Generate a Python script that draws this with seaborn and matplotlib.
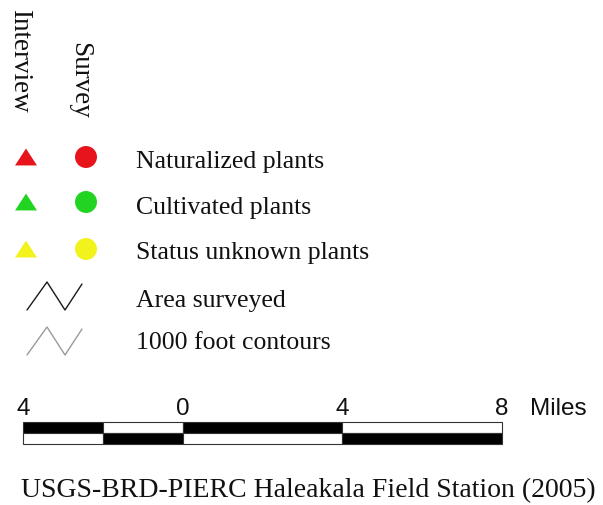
import matplotlib.pyplot as plt
import seaborn as sns
import pandas as pd

# legend entries
labels = ["Naturalized plants", "Cultivated plants", "Status unknown plants",
          "Area surveyed", "1000 foot contours"]
point_colors = ["#e8141c", "#22d422", "#f2f21c"]
line_colors = ["#1a1a1a", "#9a9a9a"]
zigzag_dx = [0, 20, 38, 55]
zigzag_dy = [0, -28, 0, -26]

# scale bar (miles)
scale_edges = [-4, -2, 0, 4, 8]
scale_ticks = [-4, 0, 4, 8]
scale_tick_labels = ["4", "0", "4", "8"]
credit = "USGS-BRD-PIERC Haleakala Field Station (2005)"

sns.set_theme(style="white")
plt.rcParams['font.family'] = ['Liberation Serif', 'DejaVu Serif']
plt.rcParams['text.color'] = '#111111'

fig = plt.figure(figsize=(6.03, 5.06), dpi=100)
ax = fig.add_axes([0, 0, 1, 1])
ax.set_xlim(0, 603)
ax.set_ylim(506, 0)
ax.axis('off')

# column headers
ax.text(20, 9, "Interview", rotation=270, ha="center", va="top", fontsize=19.5)
ax.text(80, 42, "Survey", rotation=270, ha="center", va="top", fontsize=19.5)

row_y = [158, 203, 250, 297, 342]
text_base = [168, 214, 259, 307, 349]

tri_marker = [(-1, -0.77), (1, -0.77), (0, 0.77)]
tri = pd.DataFrame({"x": [26] * 3, "y": row_y[:3], "status": labels[:3]})
circ = pd.DataFrame({"x": [86] * 3, "y": row_y[:3], "status": labels[:3]})
sns.scatterplot(data=tri, x="x", y="y", hue="status", palette=point_colors,
                marker=tri_marker, s=250, linewidth=0, legend=False, ax=ax)
sns.scatterplot(data=circ, x="x", y="y", hue="status", palette=point_colors,
                marker="o", s=250, linewidth=0, legend=False, ax=ax)

for i, c in enumerate(line_colors):
    y0 = row_y[3 + i] + 14
    sns.lineplot(x=[27 + d for d in zigzag_dx], y=[y0 + d for d in zigzag_dy],
                 sort=False, estimator=None, color=c, lw=1.0, ax=ax)

for lab, yb in zip(labels, text_base):
    ax.text(136, yb, lab, ha="left", va="baseline", fontsize=18.5)

ax.text(21, 497, credit, ha="left", va="baseline", fontsize=20)

# scale bar in its own axes, miles on x
sb = fig.add_axes([23 / 603, (506 - 445) / 506, 479 / 603, 22 / 506])
widths = [b - a for a, b in zip(scale_edges[:-1], scale_edges[1:])]
top_cols = ["black", "white", "black", "white"]
bot_cols = ["white", "black", "white", "black"]
for yc, cols in [(1.5, top_cols), (0.5, bot_cols)]:
    bars = sb.barh(yc, widths, left=scale_edges[:-1], height=1, color=cols,
                   edgecolor="#333333", linewidth=0.8)
    for p in bars:
        p.set_clip_on(False)
sb.set_xlim(scale_edges[0], scale_edges[-1])
sb.set_ylim(0, 2)
sb.axis('off')
for t, lab in zip(scale_ticks, scale_tick_labels):
    sb.text(t, 2.73, lab, ha="center", va="baseline", fontsize=17.5,
            family="Liberation Sans")
sb.text(scale_edges[-1] + 0.7, 2.73, "Miles", ha="left", va="baseline",
        fontsize=17.5, family="Liberation Sans")

fig.savefig("out.png", dpi=100)
